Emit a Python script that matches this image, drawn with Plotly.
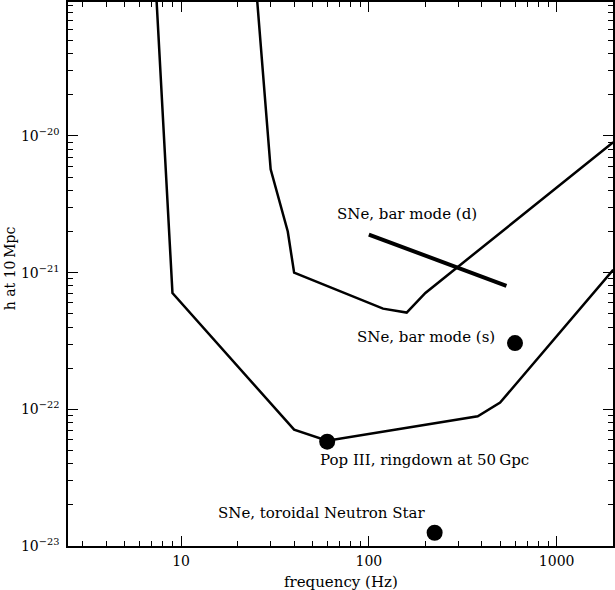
import plotly.graph_objects as go

# lower sensitivity curve
f_low = [7.4, 9, 40, 60, 380, 500, 2000]
h_low = [1.0e-19, 7.1e-22, 7.1e-23, 5.9e-23, 8.9e-23, 1.12e-22, 1.05e-21]

# upper sensitivity curve
f_up = [25.4, 30, 37, 40, 119, 159, 200, 2000]
h_up = [1.0e-19, 5.7e-21, 2.0e-21, 1.0e-21, 5.45e-22, 5.1e-22, 7.1e-22, 9.0e-21]

# SNe bar mode (d) segment
f_bar_d = [100, 540]
h_bar_d = [1.9e-21, 8.0e-22]

# point sources
pt_names = ['SNe, bar mode (s)', 'Pop III, ringdown at 50\u2009Gpc', 'SNe, toroidal Neutron Star']
pt_f = [600, 60, 224]
pt_h = [3.05e-22, 5.8e-23, 1.25e-23]

xtick_vals = [10, 100, 1000]
xtick_text = ['10', '100', '1000']
ytick_vals = [1e-23, 1e-22, 1e-21, 1e-20]
ytick_text = ['10<sup>\u221223</sup>', '10<sup>\u221222</sup>', '10<sup>\u221221</sup>', '10<sup>\u221220</sup>']

# minor tick positions (2..9 in each decade)
x_minor = [m * 10 ** d for d in range(0, 4) for m in range(2, 10)]
y_minor = [m * 10.0 ** d for d in range(-23, -19) for m in range(2, 10)]

FONT = 'DejaVu Serif'
LABEL_SIZE = 15

fig = go.Figure()
fig.add_trace(go.Scatter(x=f_low, y=h_low, mode='lines',
                         line=dict(color='black', width=2.5)))
fig.add_trace(go.Scatter(x=f_up, y=h_up, mode='lines',
                         line=dict(color='black', width=2.5)))
fig.add_trace(go.Scatter(x=f_bar_d, y=h_bar_d, mode='lines',
                         line=dict(color='black', width=4)))
fig.add_trace(go.Scatter(x=pt_f, y=pt_h, mode='markers',
                         marker=dict(color='black', size=16)))

# text labels (log10 positions on the data axes)
labels = [
    ('SNe, bar mode (d)', 2.202, -20.568),
    (pt_names[0], 2.303, -21.469),
    (pt_names[1], 2.298, -22.37),
    (pt_names[2], 1.75, -22.758),
]
for txt, lx, ly in labels:
    fig.add_annotation(x=lx, y=ly, xref='x', yref='y', text=txt, showarrow=False,
                       xanchor='center', yanchor='middle',
                       font=dict(family=FONT, size=LABEL_SIZE, color='black'))

# axis titles
fig.add_annotation(x=0.5, y=-0.066, xref='paper', yref='paper', text='frequency (Hz)',
                   showarrow=False, xanchor='center', yanchor='middle',
                   font=dict(family=FONT, size=LABEL_SIZE, color='black'))
fig.add_annotation(x=-0.106, y=0.511, xref='paper', yref='paper', text='h at 10\u2009Mpc',
                   showarrow=False, xanchor='center', yanchor='middle', textangle=-90,
                   font=dict(family=FONT, size=14, color='black'))

axis_common = dict(
    type='log', showgrid=False, zeroline=False, automargin=False,
    showline=True, linecolor='black', linewidth=1.5, mirror='ticks',
    ticks='inside', ticklen=10, tickwidth=1, tickcolor='black',
    tickfont=dict(family=FONT, size=14, color='black'),
)

fig.update_xaxes(**axis_common, range=[0.398, 3.3],
                 tickvals=xtick_vals, ticktext=xtick_text, ticklabelstandoff=1,
                 minor=dict(tickvals=x_minor, ticks='inside', ticklen=5, tickwidth=1,
                            tickcolor='black', showgrid=False))
fig.update_yaxes(**axis_common, range=[-23, -19.02],
                 tickvals=ytick_vals, ticktext=ytick_text, ticklabelstandoff=4,
                 minor=dict(tickvals=y_minor, ticks='inside', ticklen=5, tickwidth=1,
                            tickcolor='black', showgrid=False))

fig.update_layout(
    width=615, height=590,
    margin=dict(l=68, r=2, t=2, b=44),
    paper_bgcolor='white', plot_bgcolor='white',
    showlegend=False,
    font=dict(family=FONT, size=14, color='black'),
)

fig.write_html('out.html', config={'displayModeBar': False},
               post_script="document.body.style.margin='0';")
